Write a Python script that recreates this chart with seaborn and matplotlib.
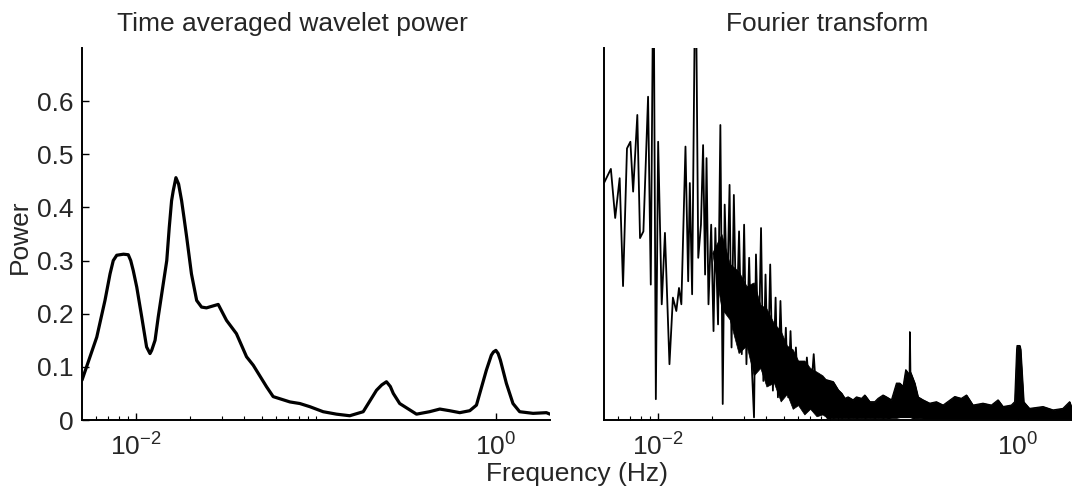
import matplotlib
matplotlib.use("Agg")
import matplotlib.pyplot as plt
import seaborn as sns
from matplotlib.ticker import FixedLocator, LogFormatterSciNotation, NullFormatter

# ---------------- data ----------------
# Time averaged wavelet power
wav_freq = [0.0050, 0.00604, 0.00671, 0.00716, 0.00746, 0.0078, 0.0085, 0.00904, 0.00933,
            0.00964, 0.01008, 0.01074, 0.01143, 0.01194, 0.0122, 0.01274, 0.01327, 0.0148,
            0.01528, 0.01574, 0.01607, 0.01664, 0.01722, 0.0179, 0.01845,
            0.0191, 0.0203, 0.0217, 0.0231, 0.0246, 0.0286, 0.0318, 0.0361, 0.0411,
            0.0448, 0.0531, 0.0578, 0.0716, 0.0813, 0.0925, 0.1096, 0.130, 0.154,
            0.183, 0.217, 0.232, 0.2465, 0.259, 0.269, 0.292, 0.362, 0.428, 0.488, 0.553, 0.63,
            0.716, 0.78, 0.886, 0.944, 0.97, 1.0, 1.03, 1.06, 1.144, 1.245, 1.356, 1.61, 1.91, 2.0]
wav_power = [0.075, 0.156, 0.225, 0.275, 0.300, 0.310, 0.312, 0.311, 0.300,
             0.281, 0.250, 0.194, 0.1375, 0.125, 0.131, 0.150, 0.194, 0.300,
             0.3625, 0.4125, 0.431, 0.456, 0.444, 0.4125, 0.381,
             0.344, 0.275, 0.225, 0.2125, 0.211, 0.2175, 0.1875, 0.1625, 0.119,
             0.103, 0.0625, 0.044, 0.034, 0.031, 0.025, 0.0156, 0.011, 0.008,
             0.0156, 0.056, 0.066, 0.072, 0.063, 0.050, 0.031, 0.011, 0.0156, 0.0206, 0.0175, 0.0138,
             0.0175, 0.028, 0.094, 0.122, 0.128, 0.131, 0.125, 0.1125, 0.069, 0.031, 0.0156, 0.0125, 0.0138, 0.011]

# Fourier transform: individually visible oscillations (arbitrary units, 1 = top of axes)
ft_freq = [0.00500, 0.00546, 0.00577, 0.00611, 0.00638, 0.00671, 0.00701, 0.00726,
           0.00766, 0.00793, 0.00828, 0.00879, 0.00910, 0.00942, 0.00971, 0.01000,
           0.01047, 0.01091, 0.01156, 0.01208, 0.01262, 0.01306, 0.01346, 0.01419,
           0.01469, 0.01500, 0.01545, 0.01614, 0.01671, 0.01730, 0.01778, 0.01824,
           0.01858, 0.01905, 0.01972, 0.02032, 0.02080, 0.02153, 0.02218, 0.02286,
           0.02344, 0.02421, 0.02495, 0.02559, 0.02636, 0.02723, 0.02818, 0.02917,
           0.03006, 0.03097, 0.03206, 0.03319, 0.03412, 0.03499, 0.03622, 0.03733,
           0.03846, 0.03954, 0.04074, 0.04198, 0.04345, 0.04498, 0.04634, 0.04786,
           0.04955, 0.05129, 0.05284, 0.05445, 0.05636, 0.05834, 0.06026, 0.06209,
           0.06427, 0.06714, 0.07015, 0.07328, 0.07638, 0.07980, 0.08337, 0.08710]
ft_power = [0.637, 0.675, 0.543, 0.650, 0.360, 0.730, 0.748, 0.614,
            0.820, 0.489, 0.507, 0.869, 0.364, 1.300, 0.056, 0.748,
            0.311, 0.503, 0.150, 0.329, 0.293, 0.355, 0.311, 0.735,
            0.373, 0.637, 0.338, 1.300, 0.436, 0.525, 0.739, 0.391,
            0.704, 0.311, 0.525, 0.239, 0.516, 0.257, 0.793, 0.043,
            0.579, 0.329, 0.632, 0.195, 0.605, 0.239, 0.507, 0.177,
            0.525, 0.150, 0.436, 0.141, 0.007, 0.445, 0.168, 0.516,
            0.105, 0.391, 0.114, 0.418, 0.079, 0.329, 0.061, 0.320,
            0.079, 0.248, 0.061, 0.239, 0.043, 0.195, 0.061, 0.141,
            0.034, 0.168, 0.052, 0.177, 0.043, 0.114, 0.016, 0.105]

# Fourier transform: dense core of the mid-frequency oscillations
core_freq = [0.0200, 0.0225, 0.0250, 0.0280, 0.0310, 0.0340, 0.0370, 0.0400, 0.0440,
             0.0480, 0.0520, 0.0560, 0.0600, 0.0650, 0.0700, 0.0760, 0.0820, 0.0871]
core_upper = [0.45, 0.50, 0.42, 0.40, 0.36, 0.37, 0.31, 0.30, 0.26,
              0.24, 0.20, 0.19, 0.16, 0.16, 0.14, 0.13, 0.12, 0.105]
core_lower = [0.45, 0.30, 0.27, 0.18, 0.20, 0.12, 0.14, 0.09, 0.10,
              0.05, 0.07, 0.03, 0.04, 0.015, 0.03, 0.010, 0.015, 0.006]

# Fourier transform: dense high-frequency band (upper / lower edges)
band_freq = [0.0863, 0.0940, 0.1002, 0.1047, 0.1092, 0.1138, 0.1213, 0.1267, 0.1352,
             0.1410, 0.1503, 0.1601, 0.1670, 0.1781, 0.1860, 0.1983, 0.2114, 0.2205,
             0.2301, 0.2381, 0.2453, 0.2490, 0.2506, 0.2522, 0.2570, 0.2670, 0.2786,
             0.2970, 0.3236, 0.3524, 0.3840, 0.4460, 0.4850, 0.5180, 0.5630, 0.6400,
             0.7130, 0.7760, 0.8270, 0.9200, 0.9600, 0.9850, 0.9900, 1.0250, 1.0350,
             1.0770, 1.1600, 1.3800, 1.5700, 1.7800, 1.9400, 2.0000]
band_upper = [0.108, 0.103, 0.081, 0.072, 0.058, 0.062, 0.054, 0.062, 0.058,
              0.067, 0.049, 0.049, 0.058, 0.067, 0.062, 0.054, 0.099, 0.099,
              0.090, 0.135, 0.126, 0.110, 0.237, 0.130, 0.120, 0.099, 0.062,
              0.054, 0.045, 0.049, 0.040, 0.063, 0.058, 0.067, 0.040, 0.045,
              0.040, 0.054, 0.036, 0.040, 0.049, 0.190, 0.200, 0.200, 0.190,
              0.049, 0.031, 0.036, 0.027, 0.031, 0.049, 0.030]
band_lower = [0.006, 0.004, 0.005, 0.004, 0.005, 0.004, 0.005, 0.004, 0.005,
              0.004, 0.005, 0.004, 0.005, 0.004, 0.005, 0.006, 0.006, 0.008,
              0.008, 0.008, 0.008, 0.008, 0.008, 0.008, 0.006, 0.005, 0.005,
              0.004, 0.004, 0.004, 0.004, 0.004, 0.004, 0.004, 0.004, 0.004,
              0.004, 0.004, 0.004, 0.004, 0.004, 0.004, 0.004, 0.004, 0.004,
              0.004, 0.004, 0.004, 0.004, 0.004, 0.004, 0.004]

y_ticks = [0, 0.1, 0.2, 0.3, 0.4, 0.5, 0.6]
y_ticklabels = ["0", "0.1", "0.2", "0.3", "0.4", "0.5", "0.6"]
x_major = [1e-2, 1e0]
x_minor = [0.006, 0.007, 0.008, 0.009, 0.02, 0.03, 0.04, 0.05, 0.06, 0.07, 0.08, 0.09, 0.1]

# ---------------- style ----------------
sns.set_theme(style="ticks")
plt.rcParams["font.family"] = ["Liberation Sans", "DejaVu Sans"]
plt.rcParams["mathtext.fontset"] = "custom"
plt.rcParams["mathtext.rm"] = "Liberation Sans"
plt.rcParams["mathtext.it"] = "Liberation Sans:italic"
plt.rcParams["mathtext.bf"] = "Liberation Sans:bold"
plt.rcParams["xtick.direction"] = "in"
plt.rcParams["ytick.direction"] = "in"

TXT = "#262626"
FS = 19

fig = plt.figure(figsize=(10.72, 4.9), dpi=100)
ax1 = fig.add_axes([82 / 1072, 70 / 490, 468 / 1072, 372 / 490])
ax2 = fig.add_axes([604 / 1072, 70 / 490, 468 / 1072, 372 / 490])

# wavelet panel
sns.lineplot(x=wav_freq, y=wav_power, ax=ax1, color="black", lw=2.3,
             sort=False, estimator=None)
# fourier panel
ax2.fill_between(core_freq, core_lower, core_upper, color="black", lw=0.5)
ax2.fill_between(band_freq, band_lower, band_upper, color="black", lw=0.8)
sns.lineplot(x=band_freq, y=band_upper, ax=ax2, color="black", lw=0.9,
             sort=False, estimator=None)
sns.lineplot(x=ft_freq, y=ft_power, ax=ax2, color="black", lw=1.3,
             sort=False, estimator=None)

for ax in (ax1, ax2):
    ax.set_xscale("log")
    ax.set_xlim(0.005, 2.0)
    ax.xaxis.set_major_locator(FixedLocator(x_major))
    ax.xaxis.set_minor_locator(FixedLocator(x_minor))
    ax.xaxis.set_major_formatter(LogFormatterSciNotation())
    ax.xaxis.set_minor_formatter(NullFormatter())
    ax.tick_params(axis="x", which="major", length=5, width=1.0, pad=10,
                   labelsize=FS, labelcolor=TXT, color="black")
    ax.tick_params(axis="x", which="minor", length=3, width=0.8, color="black")
    for s in ("top", "right"):
        ax.spines[s].set_visible(False)
    for s in ("left", "bottom"):
        ax.spines[s].set_color("black")
        ax.spines[s].set_linewidth(1.4)
    ax.set_xlabel("")
    ax.set_ylabel("")

ax1.set_ylim(0, 0.7)
ax1.set_yticks(y_ticks)
ax1.set_yticklabels(y_ticklabels)
ax1.tick_params(axis="y", length=5, width=1.0, pad=6, labelsize=FS,
                labelcolor=TXT, color="black")

ax2.set_ylim(0, 1.0)
ax2.set_yticks([])

fig.text(292 / 1072, 1 - 24 / 490, "Time averaged wavelet power", ha="center",
         va="center", fontsize=FS, color=TXT)
fig.text(827 / 1072, 1 - 24 / 490, "Fourier transform", ha="center",
         va="center", fontsize=FS, color=TXT)
fig.text(577 / 1072, 1 - 474 / 490, "Frequency (Hz)", ha="center",
         va="center", fontsize=FS, color=TXT)
fig.text(20 / 1072, 1 - 237 / 490, "Power", ha="center", va="center",
         rotation=90, fontsize=FS, color=TXT)

fig.savefig("out.png", dpi=100)
